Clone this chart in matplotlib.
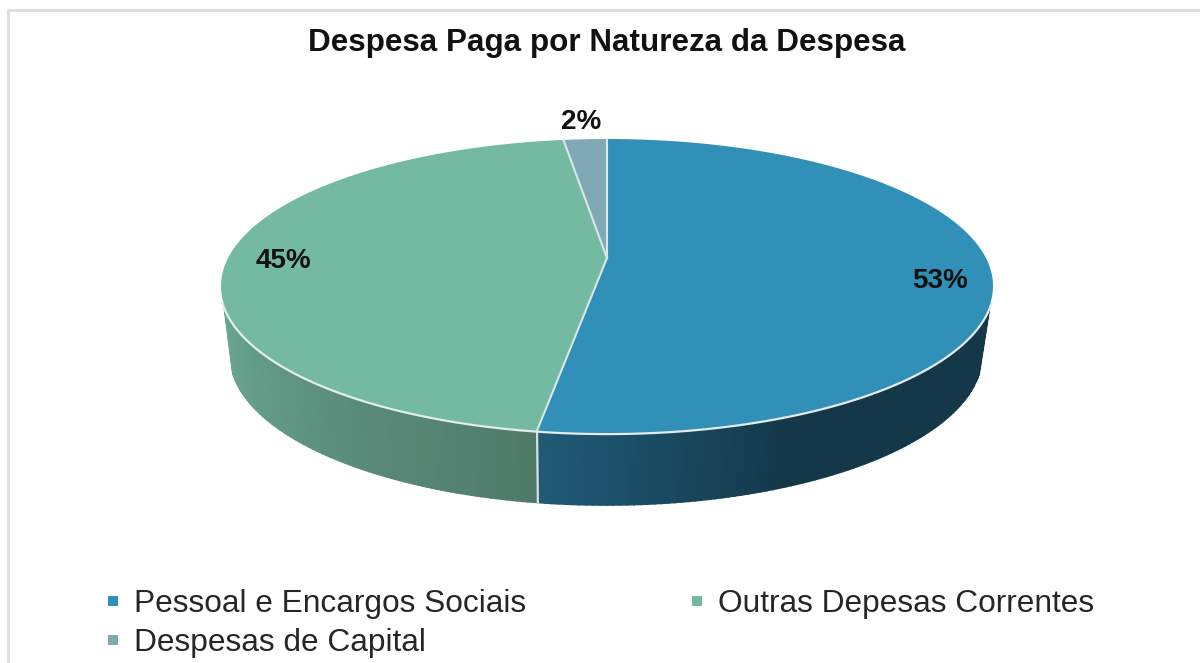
"""Despesa paga por natureza - pie with a fake 3D rim."""
import numpy as np
import matplotlib
matplotlib.use('Agg')
import matplotlib.pyplot as plt
from matplotlib.lines import Line2D

plt.rcParams['font.family'] = ['Liberation Sans', 'DejaVu Sans']

categories = ['Pessoal e Encargos Sociais', 'Outras Depesas Correntes', 'Despesas de Capital']
values = [52.9, 45.3, 1.8]  # labels are rounded
top_colors = ['#3190b8', '#74baa3', '#7ea9b5']
# rim shade of each slice: colour at the seam side and at the far side
rim_start = ['#14384a', '#4f7a6a', '#6f99a5']
rim_end = ['#205b78', '#69a592', '#6f99a5']
label_pos = [(940, 281), (283, 261), (581, 122)]

cx, cy, rx, ry = 607, 286, 386, 147     # top ellipse
bx, by, brx, bry = 606, 355, 376, 150   # bottom ellipse
apex = (607, 258)
rim_trim = 0.12  # rim starts a bit under the widest point of the top ellipse


def top_pt(t):
    return cx + rx * np.sin(t), cy - ry * np.cos(t)


def bot_pt(t):
    return bx + brx * np.sin(t), by - bry * np.cos(t)


fig = plt.figure(figsize=(12, 6.63), dpi=100)
ax = fig.add_axes([0, 0, 1, 1])
ax.set_xlim(0, 1200)
ax.set_ylim(663, 0)
ax.axis('off')

# chart frame, only top and left show in the crop
ax.plot([8, 8, 1200], [663, 10, 10], color='#dcdcdc', lw=2, zorder=1)

edges = np.cumsum([0] + values) / sum(values) * 2 * np.pi

# rim first
for i in range(len(values)):
    a0 = max(edges[i], np.pi / 2 + rim_trim)
    a1 = min(edges[i + 1], 3 * np.pi / 2 - rim_trim)
    if a1 <= a0:
        continue
    steps = np.linspace(a0, a1, 90)
    c0 = np.array(matplotlib.colors.to_rgb(rim_start[i]))
    c1 = np.array(matplotlib.colors.to_rgb(rim_end[i]))
    for j in range(len(steps) - 1):
        x0, y0 = top_pt(steps[j])
        x1, y1 = top_pt(steps[j + 1])
        x2, y2 = bot_pt(steps[j + 1])
        x3, y3 = bot_pt(steps[j])
        if i == 0:
            # blue goes dark quickly away from the seam
            f = np.clip((a1 - steps[j]) / (a1 - a0) * 2.4, 0, 1)
            col = c1 + (c0 - c1) * f
        else:
            f = (steps[j] - a0) / (a1 - a0)
            col = c0 + (c1 - c0) * f
        ax.fill([x0, x1, x2, x3], [y0, y1, y2, y3], color=col, lw=1.2, zorder=2)
    # seam between rim parts
    if edges[i + 1] < 3 * np.pi / 2:
        xs, ys = top_pt(edges[i + 1])
        xe, ye = bot_pt(edges[i + 1])
        ax.plot([xs, xe], [ys, ye], color='#d5e0e4', lw=1.6, zorder=3)

# white line under the top face
t = np.linspace(np.pi / 2 + rim_trim, 3 * np.pi / 2 - rim_trim, 200)
ax.plot(*top_pt(t), color='#e4ecee', lw=3.2, zorder=3)

# top face
for i in range(len(values)):
    t = np.linspace(edges[i], edges[i + 1], 200)
    xs, ys = top_pt(t)
    ax.fill(np.r_[apex[0], xs], np.r_[apex[1], ys], color=top_colors[i], lw=0, zorder=4)
for e in edges[1:]:
    xs, ys = top_pt(e)
    ax.plot([apex[0], xs], [apex[1], ys], color='#dbe6e8', lw=1.5, zorder=5)

for i, v in enumerate(values):
    ax.text(label_pos[i][0], label_pos[i][1], f'{v:.0f}%', fontsize=20, fontweight='bold',
            color='#111111', ha='center', va='center', zorder=6)

ax.text(607, 43, 'Despesa Paga por Natureza da Despesa', fontsize=22.6, fontweight='bold',
        color='#111111', ha='center', va='center')

handles = [Line2D([], [], marker='s', ls='none', ms=6.5, mew=0, color=c) for c in
           (top_colors[0], top_colors[2], top_colors[1])]
labels = [categories[0], categories[2], categories[1]]
ax.legend(handles, labels, ncol=2, frameon=False, fontsize=22.8, labelcolor='#262626',
          loc='lower left', bbox_to_anchor=(0.0628, -0.036), handlelength=0.6,
          handletextpad=0.35, columnspacing=5.1, labelspacing=0.3)

fig.savefig('out.png', dpi=100)
